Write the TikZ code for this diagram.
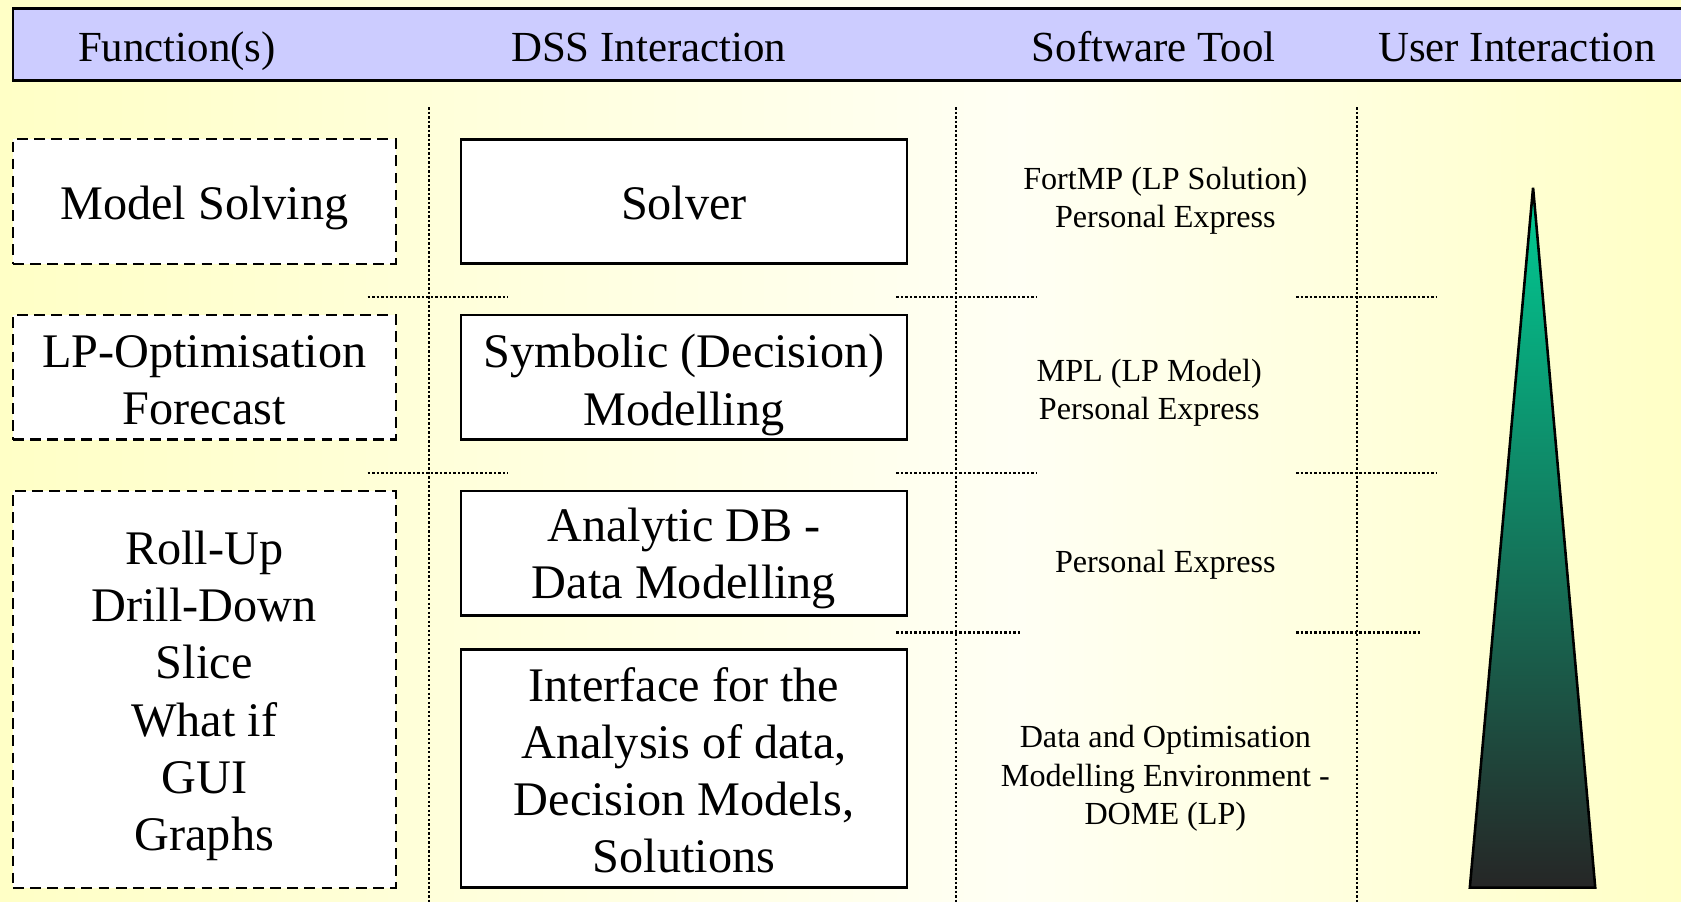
\documentclass[tikz,border=0pt]{standalone}
\usepackage{fontspec}
\setmainfont{Liberation Serif}
\begin{document}
\definecolor{bgside}{HTML}{FFFFC6}
\definecolor{bgmid}{HTML}{FFFFF4}
\definecolor{headfill}{HTML}{CCCCFF}
\definecolor{tritop}{HTML}{00CC94}
\definecolor{trimid}{HTML}{1C9670}
\definecolor{tribot}{HTML}{262626}
\begin{tikzpicture}[x=0.5pt,y=-0.5pt,
  headtext/.style={inner sep=0pt,anchor=base,font=\fontsize{20}{24}\selectfont},
  funcbox/.style={draw,fill=white,dashed,dash pattern=on 5pt off 3pt,line width=1pt,
    minimum width=178.5pt,inner sep=0pt},
  dssbox/.style={draw,fill=white,line width=1.2pt,minimum width=208pt,inner sep=0pt},
  boxtext/.style={align=center,inner sep=0pt,font=\fontsize{22.5}{26.7}\selectfont},
  tooltext/.style={align=center,inner sep=0pt,font=\fontsize{15}{17.8}\selectfont},
  sep/.style={line width=1.1pt,dash pattern=on 1.1pt off 1pt}]
\useasboundingbox (0,0) rectangle (1568,841);
% background wash
\shade[left color=bgside,right color=bgmid] (0,0) rectangle (950,841);
\shade[left color=bgmid,right color=bgside] (950,0) rectangle (1568,841);
% header bar
\draw[fill=headfill,line width=1.1pt] (12,8) rectangle (1590,75);
\node[headtext] (h1) at (165,57) {Function(s)};
\node[headtext] (h2) at (605,57) {DSS Interaction};
\node[headtext] (h3) at (1076,57) {Software Tool};
\node[headtext] (h4) at (1415,57) {User Interaction};
% column separators
\foreach \xx in {400,892,1266} \draw[sep] (\xx,100) -- (\xx,841);
% row separators
\foreach \yy in {277,441} {
  \draw[sep] (343,\yy) -- (474,\yy);
  \draw[sep] (836,\yy) -- (967,\yy);
  \draw[sep] (1209,\yy) -- (1340,\yy);
}
\draw[sep] (836,590) -- (952,590);
\draw[sep] (1209,590) -- (1325,590);
% function boxes (frames first, text set slightly lower inside)
\node[funcbox,minimum height=58pt] (f1) at (190.5,188) {};
\node[funcbox,minimum height=58pt] (f2) at (190.5,352) {};
\node[funcbox,minimum height=185pt] (f3) at (190.5,643) {};
\node[boxtext] (f1t) at ([yshift=-3pt]f1.center) {Model Solving};
\node[boxtext] (f2t) at ([yshift=-1.5pt]f2.center) {LP-Optimisation\\Forecast};
\node[boxtext] (f3t) at ([yshift=-3pt]f3.center) {Roll-Up\\Drill-Down\\Slice\\What if\\GUI\\Graphs};
% DSS interaction boxes
\node[dssbox,minimum height=58pt] (d1) at (638,188) {};
\node[dssbox,minimum height=58pt] (d2) at (638,352) {};
\node[dssbox,minimum height=58pt] (d3) at (638,516) {};
\node[dssbox,minimum height=111pt] (d4) at (638,717) {};
\node[boxtext] (d1t) at ([yshift=-0.5pt]d1.center) {Solver};
\node[boxtext] (d2t) at ([yshift=-3.5pt]d2.center) {Symbolic (Decision)\\Modelling};
\node[boxtext] (d3t) at ([yshift=-2.5pt]d3.center) {Analytic DB -\\Data Modelling};
\node[boxtext] (d4t) at ([yshift=-0.7pt]d4.center) {Interface for the\\Analysis of data,\\Decision Models,\\Solutions};
% software tools
\node[tooltext] (t1) at (1087,187) {FortMP (LP Solution)\\Personal Express};
\node[tooltext] (t2) at (1072,366) {MPL (LP Model)\\Personal Express};
\node[tooltext] (t3) at (1087,527) {Personal Express};
\node[tooltext] (t4) at (1087,726) {Data and Optimisation\\Modelling Environment -\\DOME (LP)};
% user interaction wedge
\path[draw,line width=1.2pt,line join=miter,top color=tritop,middle color=trimid,bottom color=tribot]
  (1430,175) -- (1488,828) -- (1371,828) -- cycle;
\end{tikzpicture}
\end{document}
